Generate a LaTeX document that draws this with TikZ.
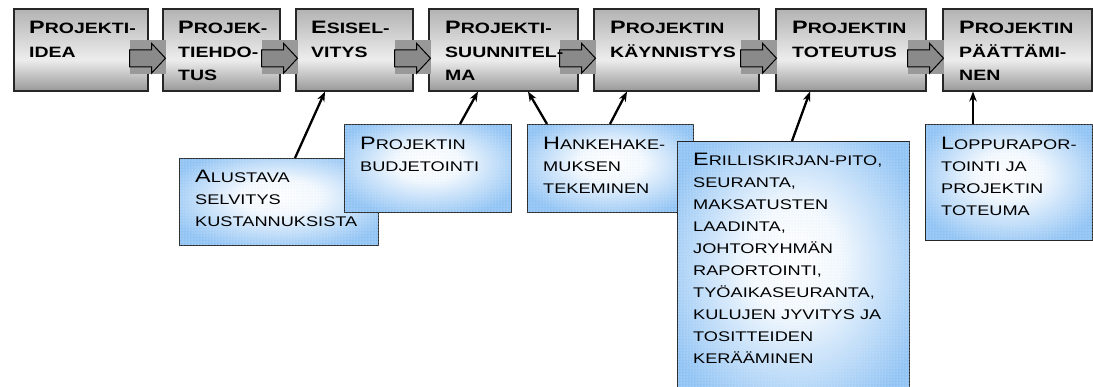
\documentclass[tikz,border=0pt]{standalone}
\usepackage{fontspec}
\setmainfont{Liberation Sans}[FakeStretch=1.3]
\usetikzlibrary{arrows.meta,calc,patterns}
\definecolor{TaskBlue}{RGB}{146,196,244}
\definecolor{FlowGray}{RGB}{138,138,138}
% gray phase boxes: light band a bit below the middle
\pgfdeclareverticalshading{phaseshade}{100bp}{color(0bp)=(black!40); color(25bp)=(black!40);
  color(44bp)=(black!7); color(75bp)=(black!30); color(100bp)=(black!30)}
% blue task boxes: white glow in the centre
\pgfdeclareradialshading{taskshade}{\pgfpoint{0bp}{4bp}}{color(0bp)=(white);
  color(10bp)=(white!90!TaskBlue); color(30bp)=(TaskBlue); color(50bp)=(TaskBlue)}
% first letter of a small-caps word
\newcommand\Ini[1]{{\fontsize{18}{18}\selectfont #1}}

\begin{document}
\begin{tikzpicture}[x=1pt,y=-1pt,
    phase/.style={draw=black!85,line width=1.5pt,shading=phaseshade,
      anchor=north west,inner sep=0pt,minimum height=82pt},
    phasetext/.style={anchor=north west,inner sep=0pt,align=left,
      font=\fontsize{15}{23.5}\selectfont\bfseries},
    task/.style={draw=black!85,line width=1.2pt,shading=taskshade,
      anchor=north west,inner sep=0pt,
      postaction={pattern=dots,pattern color=white!65!TaskBlue}},
    tasktext/.style={anchor=north west,inner sep=0pt,align=left,
      font=\fontsize{14}{22}\selectfont},
    link/.style={line width=2.3pt,-{Stealth[length=10pt,width=7.5pt]}}]
  \clip (0,0) rectangle (1093,386);

  % project phases
  \node[phase,minimum width=134pt] (b1) at (13,8) {};
  \node[phase,minimum width=117pt] (b2) at (162,8) {};
  \node[phase,minimum width=117pt] (b3) at (295,8) {};
  \node[phase,minimum width=149pt] (b4) at (428,8) {};
  \node[phase,minimum width=165pt] (b5) at (593,8) {};
  \node[phase,minimum width=150pt] (b6) at (775,8) {};
  \node[phase,minimum width=149pt] (b7) at (942,8) {};

  \foreach \pa/\pb in {b1/b2,b2/b3,b3/b4,b4/b5,b5/b6,b6/b7}{
    \fill[black!40] ($(\pa.east)+(-19,-10)$) rectangle ($(\pa.east)+(17,24)$);
    \draw[fill=FlowGray,line width=1pt,line join=miter]
      ($(\pa.east)+(-19,0)$) -- ++(22,0) -- ++(0,-6.5) -- ++(14,15)
      -- ++(-14,15) -- ++(0,-6.5) -- ++(-22,0) -- cycle;
  }

  \node[phasetext] (t1) at ($(b1.north west)+(16,13)$) {\Ini{P}ROJEKTI-\\IDEA};
  \node[phasetext] (t2) at ($(b2.north west)+(16,13)$) {\Ini{P}ROJEK-\\TIEHDO-\\TUS};
  \node[phasetext] (t3) at ($(b3.north west)+(16,13)$) {\Ini{E}SISEL-\\VITYS};
  \node[phasetext] (t4) at ($(b4.north west)+(17,13)$) {\Ini{P}ROJEKTI-\\SUUNNITEL-\\MA};
  \node[phasetext] (t5) at ($(b5.north west)+(17,13)$) {\Ini{P}ROJEKTIN\\KÄYNNISTYS};
  \node[phasetext] (t6) at ($(b6.north west)+(17,13)$) {\Ini{P}ROJEKTIN\\TOTEUTUS};
  \node[phasetext] (t7) at ($(b7.north west)+(17,13)$) {\Ini{P}ROJEKTIN\\PÄÄTTÄMI-\\NEN};

  % tasks under the phases
  \node[task,minimum width=199pt,minimum height=87pt] (alus) at (179,158) {};
  \node[tasktext] (alust) at ($(alus.north west)+(16,12)$)
    {\Ini{A}LUSTAVA\\SELVITYS\\KUSTANNUKSISTA};
  \node[task,minimum width=167pt,minimum height=88pt] (budj) at (344,124) {};
  \node[tasktext] (budjt) at ($(budj.north west)+(16,13)$)
    {\Ini{P}ROJEKTIN\\BUDJETOINTI};
  \node[task,minimum width=166pt,minimum height=88pt] (hanke) at (527,124) {};
  \node[tasktext] (hanket) at ($(hanke.north west)+(16,13)$)
    {\Ini{H}ANKEHAKE-\\MUKSEN\\TEKEMINEN};
  \node[task,minimum width=232pt,minimum height=270pt] (eril) at (677,141) {};
  \node[tasktext] (erilt) at ($(eril.north west)+(16,12)$)
    {\Ini{E}RILLISKIRJAN-PITO,\\SEURANTA,\\MAKSATUSTEN\\LAADINTA,\\JOHTORYHMÄN\\
     RAPORTOINTI,\\TYÖAIKASEURANTA,\\KULUJEN JYVITYS JA\\TOSITTEIDEN\\KERÄÄMINEN};
  \node[task,minimum width=167pt,minimum height=116pt] (lopp) at (925,124) {};
  \node[tasktext] (loppt) at ($(lopp.north west)+(16,13)$)
    {\Ini{L}OPPURAPOR-\\TOINTI JA\\PROJEKTIN\\TOTEUMA};

  \draw[link] ($(alus.north west)+(116,0)$) -- ($(b3.south west)+(30,0)$);
  \draw[link] ($(budj.north west)+(116,0)$) -- ($(b4.south west)+(50,0)$);
  \draw[link] ($(hanke.north west)+(20,0)$) -- ($(b4.south west)+(100,0)$);
  \draw[link] ($(hanke.north west)+(83,0)$) -- ($(b5.south west)+(34,0)$);
  \draw[link] ($(eril.north west)+(115,0)$) -- ($(b6.south west)+(35,0)$);
  \draw[link] ($(lopp.north west)+(48,0)$) -- ($(b7.south west)+(31,0)$);
\end{tikzpicture}
\end{document}
